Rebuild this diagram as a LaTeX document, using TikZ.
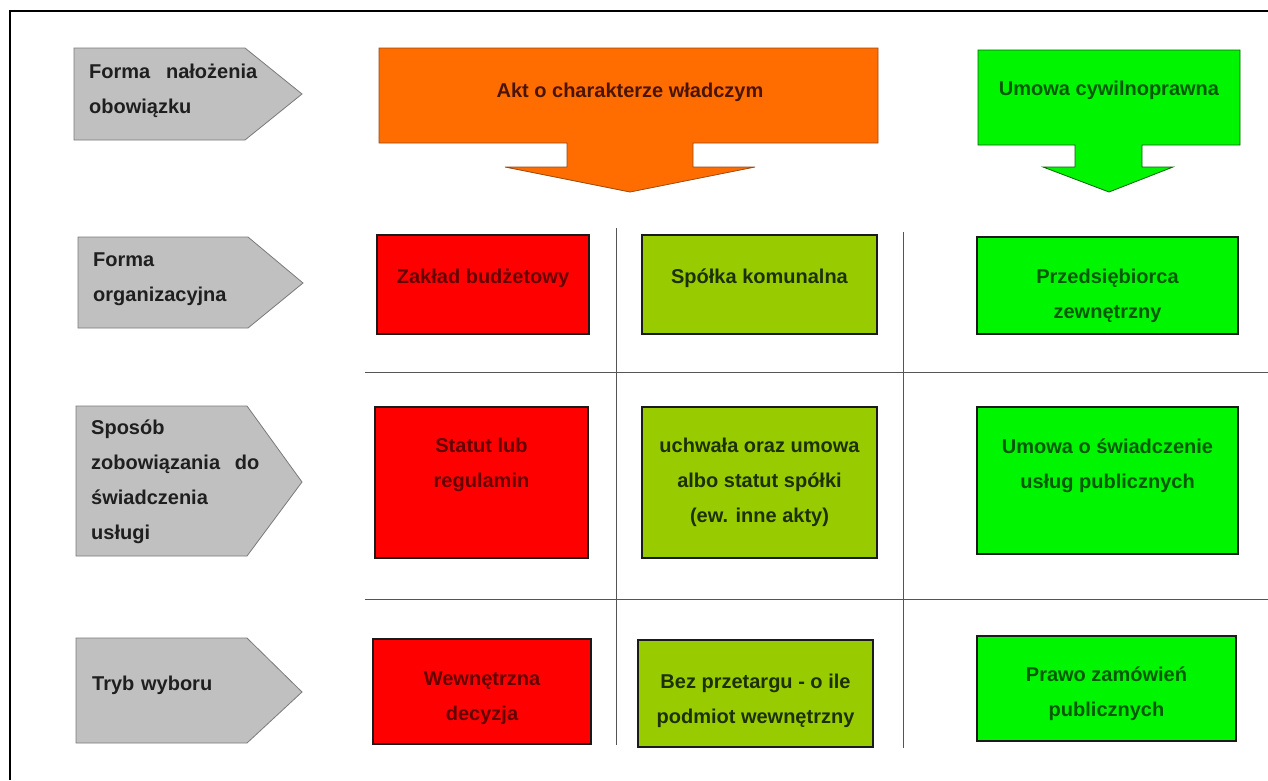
\documentclass[tikz,border=0pt]{standalone}
\usepackage{fontspec}
\setmainfont{Liberation Sans}
\usetikzlibrary{fit}
\definecolor{graybox}{HTML}{C0C0C0}
\definecolor{grayedge}{HTML}{7A7A7A}
\definecolor{orangefill}{HTML}{FF6C00}
\definecolor{orangeedge}{HTML}{9A4A10}
\definecolor{orangetext}{HTML}{4A1500}
\definecolor{redfill}{HTML}{FF0000}
\definecolor{redtext}{HTML}{650000}
\definecolor{ygfill}{HTML}{99CC00}
\definecolor{ygtext}{HTML}{1C3000}
\definecolor{greenfill}{HTML}{00F500}
\definecolor{greentext}{HTML}{005A00}
\definecolor{boxedge}{HTML}{1A1A1A}
\definecolor{gridline}{HTML}{555555}
\begin{document}
\begin{tikzpicture}[x=1pt,y=-1pt,
  txt/.style={inner sep=0pt, font=\fontsize{20}{35}\selectfont\bfseries},
  lbl/.style={txt, anchor=west, text width=168pt, align=left, text=black!88},
  boxtext/.style={txt, align=center},
  cellbox/.style={inner sep=0pt, draw=boxedge, line width=1.4pt},
  rbox/.style={cellbox, fill=redfill},
  ybox/.style={cellbox, fill=ygfill},
  gbox/.style={cellbox, fill=greenfill},
  grayarrow/.style={fill=graybox, draw=grayedge, line width=0.8pt},
  gridrule/.style={draw=gridline, line width=0.9pt},
  frame/.style={draw=black, line width=1.3pt}
]
\useasboundingbox (0,0) rectangle (1268,780);
\fill[white] (0,0) rectangle (1268,780);

% frame (top and left edges)
\coordinate (fTL) at (10,11);
\coordinate (fTR) at (1268,11);
\coordinate (fBL) at (10,780);
\draw[frame] (fTR) -- (fTL) -- (fBL);

% grid rules
\coordinate (v1a) at (616,228); \coordinate (v1b) at (616,745);
\coordinate (v2a) at (903,232); \coordinate (v2b) at (903,748);
\coordinate (h1a) at (365,372); \coordinate (h1b) at (1268,372);
\coordinate (h2a) at (365,599); \coordinate (h2b) at (1268,599);
\draw[gridrule] (v1a) -- (v1b);
\draw[gridrule] (v2a) -- (v2b);
\draw[gridrule] (h1a) -- (h1b);
\draw[gridrule] (h2a) -- (h2b);

% gray label arrows
\draw[grayarrow] (74,48) -- (245,48) -- (302,94) -- (245,140) -- (74,140) -- cycle;
\draw[grayarrow] (78,237) -- (248,237) -- (303,283) -- (248,328) -- (78,328) -- cycle;
\draw[grayarrow] (76,406) -- (247,406) -- (302,482) -- (247,556) -- (76,556) -- cycle;
\draw[grayarrow] (76,638) -- (247,638) -- (302,692) -- (247,743) -- (76,743) -- cycle;
\node[lbl] (l1) at (89,90.5) {Forma\hfill nałożenia\\obowiązku};
\node[lbl] (l2) at (93,279.5) {Forma\\organizacyjna};
\node[lbl] (l3) at (91,482) {Sposób\\zobowiązania\hfill do\\świadczenia\\usługi};
\node[lbl] (l4) at (92,685) {Tryb wyboru};

% orange block arrow
\draw[fill=orangefill, draw=orangeedge, line width=0.8pt]
  (379,48) -- (878,48) -- (878,143) -- (693,143) -- (693,167) -- (755,167)
  -- (630,192) -- (505,167) -- (567,167) -- (567,143) -- (379,143) -- cycle;
\node[boxtext, text=orangetext] (akt) at (630,92) {Akt o charakterze władczym};

% green block arrow
\draw[fill=greenfill, draw=black!60!green, line width=0.8pt]
  (978,50) -- (1240,50) -- (1240,145) -- (1142,145) -- (1142,167) -- (1173,167)
  -- (1109,192) -- (1043,167) -- (1075,167) -- (1075,145) -- (978,145) -- cycle;
\node[boxtext, text=greentext] (umc) at (1109,90) {Umowa cywilnoprawna};

% row 2
\node[rbox, fit={(377,235) (589,334)}] (r1) {};
\node[ybox, fit={(642,235) (877,334)}] (y1) {};
\node[gbox, fit={(977,237) (1238,334)}] (g1) {};
\node[boxtext, text=redtext] (tr1) at (483,278) {Zakład budżetowy};
\node[boxtext, text=ygtext] (ty1) at (759.5,278) {Spółka komunalna};
\node[boxtext, text=greentext] (tg1) at (1107.5,295.5) {Przedsiębiorca\\zewnętrzny};

% row 3
\node[rbox, fit={(375,407) (588,558)}] (r2) {};
\node[ybox, fit={(642,407) (877,558)}] (y2) {};
\node[gbox, fit={(977,407) (1238,554)}] (g2) {};
\node[boxtext, text=redtext] (tr2) at (481.5,465) {Statut lub\\regulamin};
\node[boxtext, text=ygtext] (ty2) at (759.5,482.5) {uchwała oraz umowa\\albo statut spółki\\(ew. inne akty)};
\node[boxtext, text=greentext] (tg2) at (1107.5,465.5) {Umowa o świadczenie\\usług publicznych};

% row 4
\node[rbox, fit={(373,639) (591,744)}] (r3) {};
\node[ybox, fit={(638,640) (873,747)}] (y3) {};
\node[gbox, fit={(977,636) (1236,741)}] (g3) {};
\node[boxtext, text=redtext] (tr3) at (482,698) {Wewnętrzna\\decyzja};
\node[boxtext, text=ygtext] (ty3) at (755.5,700.5) {Bez przetargu - o ile\\podmiot wewnętrzny};
\node[boxtext, text=greentext] (tg3) at (1106.5,693.5) {Prawo zamówień\\publicznych};
\end{tikzpicture}
\end{document}
